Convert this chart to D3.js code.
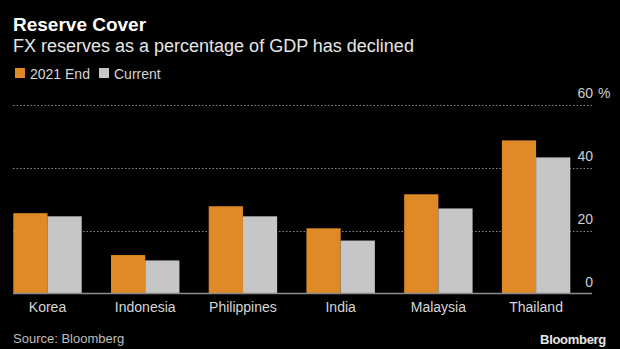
<!DOCTYPE html>
<html><head><meta charset="utf-8">
<script src="https://cdn.jsdelivr.net/npm/d3@7"></script>
<style>
html,body{margin:0;padding:0;background:#000;}
svg{display:block;font-family:"Liberation Sans",Arial,sans-serif;}
</style></head>
<body>
<svg id="c" width="620" height="349"></svg>
<script>
const categories = ["Korea","Indonesia","Philippines","India","Malaysia","Thailand"];
const seriesNames = ["2021 End","Current"];
const end2021 = [25.5, 12.2, 27.7, 20.7, 31.5, 48.6];
const current = [24.5, 10.5, 24.5, 16.8, 27.0, 43.2];
const yTicks = [0, 20, 40, 60];
const colors = ["#DF8A26", "#C6C6C6"];

const svg = d3.select("#c");
svg.append("rect").attr("width",620).attr("height",349).attr("fill","#000");

const x0 = d3.scaleBand().domain(categories).range([13.3, 570.3]).paddingInner(0.3).paddingOuter(0);
const x1 = d3.scaleBand().domain(seriesNames).range([0, x0.bandwidth()]).padding(0);
const y = d3.scaleLinear().domain([0, 60]).range([293.5, 104.5]);

// gridlines
svg.append("g").selectAll("line").data(yTicks.filter(d=>d>0)).join("line")
  .attr("x1", 13).attr("x2", 592)
  .attr("y1", d=>Math.round(y(d))+0.5).attr("y2", d=>Math.round(y(d))+0.5)
  .attr("stroke", "#8a8a8a").attr("stroke-width", 1).attr("stroke-dasharray", "1.5,2");

// bars
const data = categories.map((c,i)=>({c, vals:[end2021[i], current[i]]}));
const g = svg.append("g").selectAll("g").data(data).join("g")
  .attr("transform", d=>`translate(${x0(d.c)},0)`);
g.selectAll("rect").data(d=>d.vals.map((v,j)=>({v, s:seriesNames[j], j}))).join("rect")
  .attr("x", d=>x1(d.s)).attr("width", x1.bandwidth())
  .attr("y", d=>y(d.v)).attr("height", d=>y(0)-y(d.v))
  .attr("fill", d=>colors[d.j]);

// baseline
svg.append("line").attr("x1",13).attr("x2",592).attr("y1",y(0)).attr("y2",y(0))
  .attr("stroke","#8c8c8c").attr("stroke-width",1.5);

// y labels
svg.append("g").selectAll("text").data(yTicks).join("text")
  .attr("x", 593).attr("y", d=>y(d)-7)
  .attr("text-anchor","end").attr("fill","#cfcfcf").attr("font-size",14)
  .text(d=>d);
svg.append("text").attr("x",598).attr("y",y(60)-7).attr("fill","#cfcfcf").attr("font-size",14).text("%");

// x labels
svg.append("g").selectAll("text").data(categories).join("text")
  .attr("x", d=>x0(d)+x0.bandwidth()/2).attr("y", 312)
  .attr("text-anchor","middle").attr("fill","#d6d6d6").attr("font-size",14)
  .text(d=>d);

// title
svg.append("text").attr("x",13).attr("y",31).attr("fill","#fff").attr("font-size",19).attr("font-weight","bold").text("Reserve Cover");
svg.append("text").attr("x",13).attr("y",52).attr("fill","#e6e6e6").attr("font-size",18).text("FX reserves as a percentage of GDP has declined");

// legend
const leg = [{n:seriesNames[0], x:15, c:colors[0]},{n:seriesNames[1], x:99, c:colors[1]}];
leg.forEach(l=>{
  svg.append("rect").attr("x",l.x).attr("y",68).attr("width",10).attr("height",10).attr("fill",l.c);
  svg.append("text").attr("x",l.x+15).attr("y",78.5).attr("fill","#d6d6d6").attr("font-size",14).text(l.n);
});

// footer
svg.append("text").attr("x",13).attr("y",343).attr("fill","#bdbdbd").attr("font-size",13).text("Source: Bloomberg");
svg.append("text").attr("x",606).attr("y",344).attr("text-anchor","end").attr("fill","#e6e6e6").attr("font-size",13).attr("font-weight","bold").attr("letter-spacing","-0.3").text("Bloomberg");
</script>
</body></html>
